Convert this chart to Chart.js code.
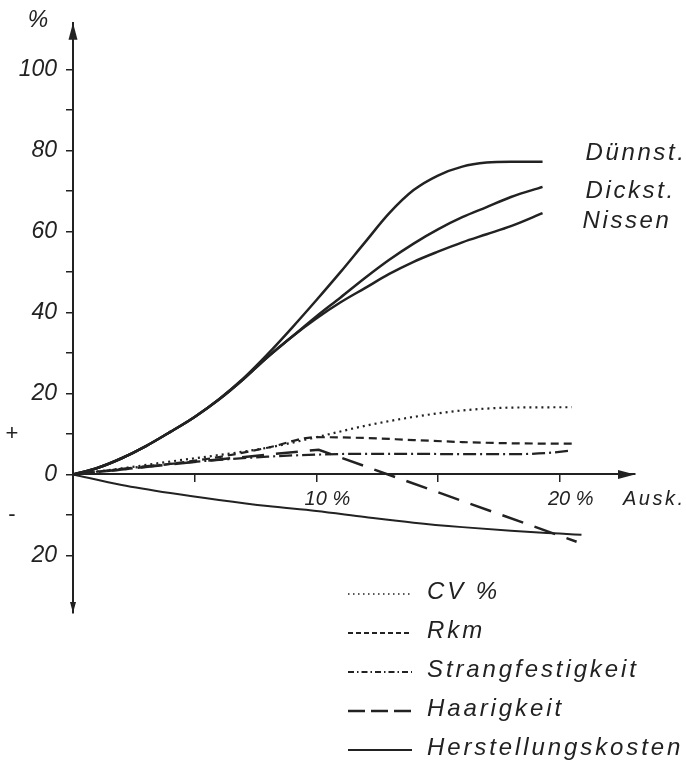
<!DOCTYPE html>
<html><head><meta charset="utf-8">
<script src="https://cdn.jsdelivr.net/npm/chart.js@4.4.0/dist/chart.umd.min.js"></script>
<style>html,body{margin:0;padding:0;background:#fff;}#wrap{width:686px;height:767px;position:relative;}</style>
</head><body><div id="wrap"><canvas id="c"></canvas></div>
<script>
// ---- data ----
const xMain     = [0, 1, 2, 3, 4, 5, 6, 7, 8, 9, 10, 11, 12, 13, 14, 15, 16, 17, 18, 19.3];
const yDuennst  = [0, 1.6, 4, 7, 10.5, 14.2, 18.6, 23.7, 29.7, 36.2, 43, 50, 57.3, 64.5, 70.2, 73.8, 76, 77, 77.2, 77.2];
const yDickst   = [0, 1.6, 4, 7, 10.5, 14.2, 18.5, 23.5, 29, 34, 39, 43.7, 48.5, 53, 57, 60.5, 63.5, 66, 68.5, 71];
const yNissen   = [0, 1.6, 4, 7, 10.5, 14.2, 18.5, 23.5, 29, 34, 38.5, 42.5, 46, 49.5, 52.5, 55, 57.3, 59.3, 61.3, 64.5];

const xCV   = [0, 2, 4, 6, 8, 10, 12, 14, 16, 18, 20.5];
const yCV   = [0, 1.5, 3.2, 4.8, 6.6, 9.2, 12, 14.2, 15.8, 16.5, 16.6];
const xRkm  = [0, 2, 4, 6, 8, 10, 12, 14, 16, 18, 20.5];
const yRkm  = [0, 1.2, 2.6, 4.3, 6.6, 9.2, 9.0, 8.5, 8.0, 7.7, 7.6];
const xStrang = [0, 2, 4, 6, 8, 10, 12, 14, 16, 18, 19.5, 20.5];
const yStrang = [0, 1.4, 2.6, 3.6, 4.4, 4.9, 5.1, 5.1, 5.0, 5.0, 5.3, 5.9];
const xHaar = [0, 2, 4, 6, 8, 10.1, 20.7];
const yHaar = [0, 1.2, 2.5, 3.7, 4.9, 6.1, -16.6];
const xKost = [0, 2, 4, 6, 8, 10, 12, 14, 16, 18, 20, 20.9];
const yKost = [0, -2.6, -4.6, -6.3, -7.8, -9, -10.5, -11.9, -13, -13.9, -14.6, -14.9];

const mainLabels   = ['Dünnst.', 'Dickst.', 'Nissen'];
const legendLabels = ['CV %', 'Rkm', 'Strangfestigkeit', 'Haarigkeit', 'Herstellungskosten'];
const xTickValues  = [5, 10, 15, 20];
const xTickLabels  = {10: '    10 %', 20: '    20 %'};
const yTickValues  = [-20, -10, 0, 10, 20, 30, 40, 50, 60, 70, 80, 90, 100];
const yTickLabels  = {'-20': '20', 0: '0', 20: '20', 40: '40', 60: '60', 80: '80', 100: '100'};

const pts = (xs, ys) => xs.map((x, i) => ({x: x, y: ys[i]}));
const INK = '#222';
const FAM = '"Liberation Sans", Arial, sans-serif';

const datasets = [
  {label: mainLabels[0], data: pts(xMain, yDuennst), borderWidth: 2.5, cubicInterpolationMode: 'monotone', endLabel: true},
  {label: mainLabels[1], data: pts(xMain, yDickst),  borderWidth: 2.5, cubicInterpolationMode: 'monotone', endLabel: true},
  {label: mainLabels[2], data: pts(xMain, yNissen),  borderWidth: 2.5, cubicInterpolationMode: 'monotone', endLabel: true},
  {label: legendLabels[0], data: pts(xCV, yCV), borderWidth: 2.2, borderDash: [2, 4], cubicInterpolationMode: 'monotone', inLegend: true, legendDash: [1.5, 3.5], legendWidth: 1.6},
  {label: legendLabels[1], data: pts(xRkm, yRkm), borderWidth: 2.2, borderDash: [8, 5], cubicInterpolationMode: 'monotone', inLegend: true, legendDash: [5, 3], legendWidth: 1.8},
  {label: legendLabels[2], data: pts(xStrang, yStrang), borderWidth: 2.2, borderDash: [13, 4, 2, 4], cubicInterpolationMode: 'monotone', inLegend: true, legendDash: [6, 3, 1.5, 3], legendWidth: 1.8},
  {label: legendLabels[3], data: pts(xHaar, yHaar), borderWidth: 2.5, borderDash: [22, 12], tension: 0, inLegend: true, legendDash: [17, 6], legendWidth: 2.5},
  {label: legendLabels[4], data: pts(xKost, yKost), borderWidth: 2, cubicInterpolationMode: 'monotone', inLegend: true, legendDash: [], legendWidth: 2}
].map(d => Object.assign({borderColor: INK, backgroundColor: INK, pointRadius: 0, fill: false}, d));

const decor = {
  id: 'decor',
  afterDraw(chart) {
    const {ctx, chartArea: a, scales: {x, y}} = chart;
    ctx.save();
    ctx.fillStyle = INK; ctx.strokeStyle = INK;
    // arrowheads
    const x0 = a.left, y0 = y.getPixelForValue(0);
    ctx.beginPath(); ctx.moveTo(x0, a.top); ctx.lineTo(x0 - 4.5, a.top + 17); ctx.lineTo(x0 + 4.5, a.top + 17); ctx.closePath(); ctx.fill();
    ctx.beginPath(); ctx.moveTo(x0, a.bottom); ctx.lineTo(x0 - 3, a.bottom - 11); ctx.lineTo(x0 + 3, a.bottom - 11); ctx.closePath(); ctx.fill();
    ctx.beginPath(); ctx.moveTo(a.right, y0); ctx.lineTo(a.right - 17, y0 - 4.5); ctx.lineTo(a.right - 17, y0 + 4.5); ctx.closePath(); ctx.fill();

    // axis texts
    ctx.textBaseline = 'middle';
    ctx.font = 'italic 23px ' + FAM;
    ctx.textAlign = 'center';
    ctx.fillText('%', 38, 21);
    ctx.font = '22px ' + FAM;
    ctx.fillText('+', 12, y.getPixelForValue(10));
    ctx.fillText('-', 12, y.getPixelForValue(-10));
    ctx.textAlign = 'left';
    ctx.font = 'italic 20px ' + FAM;
    ctx.letterSpacing = '2.5px';
    ctx.fillText('Ausk.', 623, y0 + 25);

    // end labels of the main curves
    ctx.font = 'italic 24px ' + FAM;
    ctx.letterSpacing = '2.6px';
    const endOff = [[43, -8], [43, 4], [40, 8]];
    let k = 0;
    chart.data.datasets.forEach((ds, i) => {
      if (!ds.endLabel) return;
      const meta = chart.getDatasetMeta(i);
      const last = meta.data[meta.data.length - 1];
      ctx.fillText(ds.label, last.x + endOff[k][0], last.y + endOff[k][1]);
      k++;
    });

    // legend
    ctx.letterSpacing = '2.9px';
    let row = 0;
    chart.data.datasets.forEach((ds) => {
      if (!ds.inLegend) return;
      const ly = 592 + row * 39;
      ctx.beginPath();
      ctx.setLineDash(ds.legendDash);
      ctx.lineWidth = ds.legendWidth;
      ctx.moveTo(348, ly + 2); ctx.lineTo(412, ly + 2);
      ctx.stroke();
      ctx.setLineDash([]);
      ctx.fillText(ds.label, 427, ly);
      row++;
    });
    ctx.restore();
  }
};

new Chart(document.getElementById('c'), {
  type: 'line',
  data: {datasets: datasets},
  options: {
    responsive: true, maintainAspectRatio: false, animation: false,
    layout: {padding: {left: 0, top: 17, right: 51, bottom: 154}},
    plugins: {legend: {display: false}, tooltip: {enabled: false}},
    scales: {
      x: {
        type: 'linear', min: 0, max: 23.1, position: {y: 0},
        afterBuildTicks: s => { s.ticks = xTickValues.map(v => ({value: v})); },
        grid: {drawOnChartArea: false, drawTicks: true, tickLength: 7, color: INK, tickColor: INK, lineWidth: 1.5},
        border: {display: true, color: INK, width: 2},
        ticks: {autoSkip: false, maxRotation: 0, align: 'center', padding: 6, color: INK,
          font: {family: FAM, size: 20, style: 'italic'},
          callback: v => xTickLabels[v] || ''}
      },
      y: {
        type: 'linear', min: -34.2, max: 111.5, position: 'left',
        afterFit: s => { s.width = 73; },
        afterBuildTicks: s => { s.ticks = yTickValues.map(v => ({value: v})); },
        grid: {drawOnChartArea: false, drawTicks: true, tickLength: 7, color: INK, tickColor: INK, lineWidth: 1.5},
        border: {display: true, color: INK, width: 2},
        ticks: {autoSkip: false, padding: 9, color: INK,
          font: {family: FAM, size: 23, style: 'italic'},
          callback: v => (yTickLabels[v] !== undefined ? yTickLabels[v] : '')}
      }
    }
  },
  plugins: [decor]
});
</script>
</body></html>
